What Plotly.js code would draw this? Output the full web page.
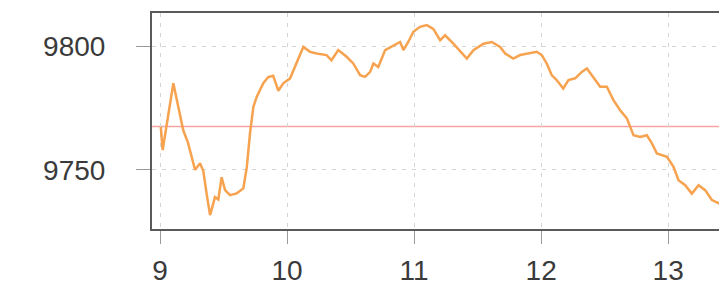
<!DOCTYPE html>
<html>
<head>
<meta charset="utf-8">
<script src="https://cdn.plot.ly/plotly-3.0.1.min.js"></script>
<style>
  html, body { margin: 0; padding: 0; overflow: hidden; background: #fff; }
  #chart { width: 719px; height: 290px; }
</style>
</head>
<body>
<div id="chart"></div>
<script>
// Time of day (decimal hours) and index level
const times = [
  9.006, 9.021, 9.105, 9.183, 9.220, 9.246, 9.276, 9.315, 9.341, 9.368, 9.394,
  9.433, 9.459, 9.485, 9.512, 9.551, 9.604, 9.656, 9.683, 9.709, 9.735,
  9.761, 9.813, 9.852, 9.891, 9.931, 9.970, 10.024, 10.063, 10.128, 10.181,
  10.233, 10.311, 10.350, 10.403, 10.469, 10.521, 10.575, 10.614, 10.654, 10.680,
  10.718, 10.772, 10.837, 10.890, 10.916, 10.954, 10.994, 11.047, 11.100, 11.151,
  11.205, 11.244, 11.309, 11.415, 11.467, 11.546, 11.612, 11.677, 11.717, 11.780,
  11.835, 11.913, 11.966, 12.005, 12.044, 12.083, 12.122, 12.174, 12.215, 12.268,
  12.320, 12.360, 12.398, 12.465, 12.517, 12.569, 12.622, 12.675, 12.727, 12.780,
  12.832, 12.872, 12.911, 12.990, 13.042, 13.081, 13.134, 13.186, 13.239, 13.291,
  13.344, 13.396, 13.420
];
const levels = [
  9767.4, 9758.0, 9785.0, 9766.0, 9761.0, 9755.5, 9750.0, 9752.7, 9749.5, 9740.0, 9731.7,
  9739.0, 9738.0, 9747.0, 9741.8, 9739.8, 9740.5, 9742.5, 9751.0, 9765.0, 9775.5,
  9779.5, 9785.0, 9787.5, 9788.0, 9782.0, 9785.0, 9787.0, 9791.6, 9799.7, 9797.7,
  9797.0, 9796.4, 9794.3, 9798.4, 9795.7, 9793.0, 9788.3, 9787.6, 9789.6, 9793.0,
  9791.6, 9798.4, 9800.4, 9801.7, 9798.4, 9801.7, 9805.8, 9807.8, 9808.5, 9807.0,
  9802.4, 9804.4, 9801.0, 9795.0, 9798.4, 9801.0, 9801.7, 9799.7, 9797.0, 9795.0,
  9796.4, 9797.0, 9797.7, 9796.4, 9793.0, 9788.3, 9786.3, 9782.9, 9786.3, 9787.0,
  9789.6, 9791.0, 9788.3, 9783.6, 9783.6, 9778.2, 9774.1, 9770.8, 9764.0, 9763.3,
  9764.0, 9760.7, 9756.6, 9755.3, 9751.2, 9745.8, 9743.8, 9740.4, 9743.8, 9741.8,
  9737.8, 9736.4, 9736.0
];
// Reference level (previous close)
const refLevel = 9767.5;
const xTicks = [9, 10, 11, 12, 13];
const xTickLabels = ['9', '10', '11', '12', '13'];
const yTicks = [9750, 9800];
const yTickLabels = ['9750', '9800'];

const font = { family: 'Liberation Sans, Arial, sans-serif', size: 28, color: '#3a3a3a' };

const traces = [{
  type: 'scatter',
  mode: 'lines',
  x: times,
  y: levels,
  line: { color: '#f7a24f', width: 2.5 },
  hoverinfo: 'skip'
}];

const layout = {
  width: 719,
  height: 290,
  margin: { l: 152, r: 0, t: 13, b: 61 },
  paper_bgcolor: '#ffffff',
  plot_bgcolor: '#ffffff',
  showlegend: false,
  font: font,
  xaxis: {
    range: [8.937, 13.40],
    tickmode: 'array',
    tickvals: xTicks,
    ticktext: xTickLabels,
    ticks: 'outside',
    ticklen: 13,
    tickcolor: '#9a9a9a',
    tickwidth: 1,
    tickfont: font,
    ticklabelstandoff: 2,
    showgrid: true,
    gridcolor: '#d4d4d4',
    gridwidth: 1,
    griddash: '4px,6px',
    showline: true,
    linecolor: '#5a5a5a',
    linewidth: 2,
    mirror: true,
    zeroline: false
  },
  yaxis: {
    range: [9726.1, 9813.4],
    tickmode: 'array',
    tickvals: yTicks,
    ticktext: yTickLabels,
    ticks: 'outside',
    ticklen: 14,
    tickcolor: '#9a9a9a',
    tickwidth: 1,
    tickfont: font,
    ticklabelstandoff: 25,
    showgrid: true,
    gridcolor: '#d4d4d4',
    gridwidth: 1,
    griddash: '4px,6px',
    showline: true,
    linecolor: '#5a5a5a',
    linewidth: 2,
    mirror: false,
    zeroline: false
  },
  shapes: [{
    type: 'line',
    xref: 'paper', yref: 'y',
    x0: 0, x1: 1,
    y0: refLevel, y1: refLevel,
    line: { color: '#f5a3a3', width: 1.5 },
    layer: 'below'
  }]
};

Plotly.newPlot('chart', traces, layout, { displayModeBar: false, staticPlot: true });
</script>
</body>
</html>
